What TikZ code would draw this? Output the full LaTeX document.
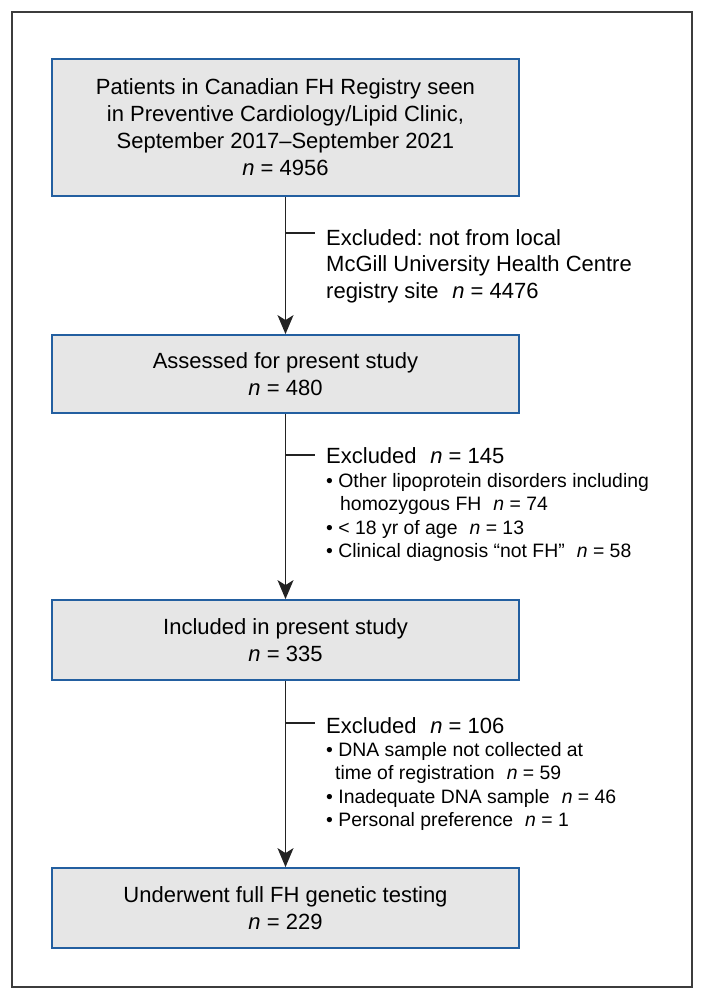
\documentclass[tikz,border=0pt]{standalone}
\usepackage{fontspec}
\setmainfont{Liberation Sans}
\usetikzlibrary{arrows.meta}
\definecolor{boxblue}{RGB}{35,95,160}
\definecolor{boxfill}{RGB}{230,230,230}
\definecolor{framegray}{RGB}{60,60,60}
\definecolor{linegray}{RGB}{35,35,35}
\newcommand\gp{\hspace{0.62em}}
\frenchspacing
\begin{document}
\begin{tikzpicture}[x=1pt,y=-1pt,
  flowbox/.style={draw=boxblue, line width=1.8pt, fill=boxfill, minimum width=467pt, inner sep=0pt, align=center, font=\fontsize{22}{27}\selectfont, text=black},
  sidetext/.style={anchor=north west, inner sep=0pt, align=left, font=\fontsize{22}{26.5}\selectfont},
  bullettext/.style={anchor=north west, inner sep=0pt, align=left, font=\fontsize{19.4}{23.5}\selectfont},
  flowarrow/.style={draw=linegray, line width=1.4pt, -{Stealth[length=19pt,width=16pt,inset=5pt]}},
  tickline/.style={draw=linegray, line width=1.2pt},
  frameline/.style={draw=framegray, line width=1.5pt}]
\useasboundingbox (0,0) rectangle (705,1000);
\draw[frameline] (12,12) rectangle (692,987);

\node[flowbox, minimum height=137pt] (b1) at (285.5,127.5) {Patients in Canadian FH Registry seen\\in Preventive Cardiology/Lipid Clinic,\\September 2017–September 2021\\\textit{n} = 4956};
\node[flowbox, minimum height=78pt] (b2) at (285.5,374) {Assessed for present study\\\textit{n} = 480};
\node[flowbox, minimum height=80pt] (b3) at (285.5,640) {Included in present study\\\textit{n} = 335};
\node[flowbox, minimum height=80pt] (b4) at (285.5,908) {Underwent full FH genetic testing\\\textit{n} = 229};

\draw[flowarrow] (b1.south) -- (b2.north);
\draw[flowarrow] (b2.south) -- (b3.north);
\draw[flowarrow] (b3.south) -- (b4.north);

\coordinate (t1) at (285.5,233); \coordinate (t1e) at (315,233);
\coordinate (t2) at (285.5,455); \coordinate (t2e) at (315,455);
\coordinate (t3) at (285.5,723); \coordinate (t3e) at (315,723);
\draw[tickline] (t1) -- (t1e);
\draw[tickline] (t2) -- (t2e);
\draw[tickline] (t3) -- (t3e);

\node[sidetext] (e1) at (326,229) {Excluded: not from local\\McGill University Health Centre\\registry site\gp\textit{n} = 4476};

\node[sidetext] (e2) at (326,447) {Excluded\gp\textit{n} = 145};
\node[bullettext] (e2b) at (326,473) {• Other lipoprotein disorders including\\\hspace*{14pt}homozygous FH\gp\textit{n} = 74\\• < 18 yr of age\gp\textit{n} = 13\\• Clinical diagnosis “not FH”\gp\textit{n} = 58};

\node[sidetext] (e3) at (326,717) {Excluded\gp\textit{n} = 106};
\node[bullettext] (e3b) at (326,742) {• DNA sample not collected at\\\hspace*{9pt}time of registration\gp\textit{n} = 59\\• Inadequate DNA sample\gp\textit{n} = 46\\• Personal preference\gp\textit{n} = 1};
\end{tikzpicture}
\end{document}
